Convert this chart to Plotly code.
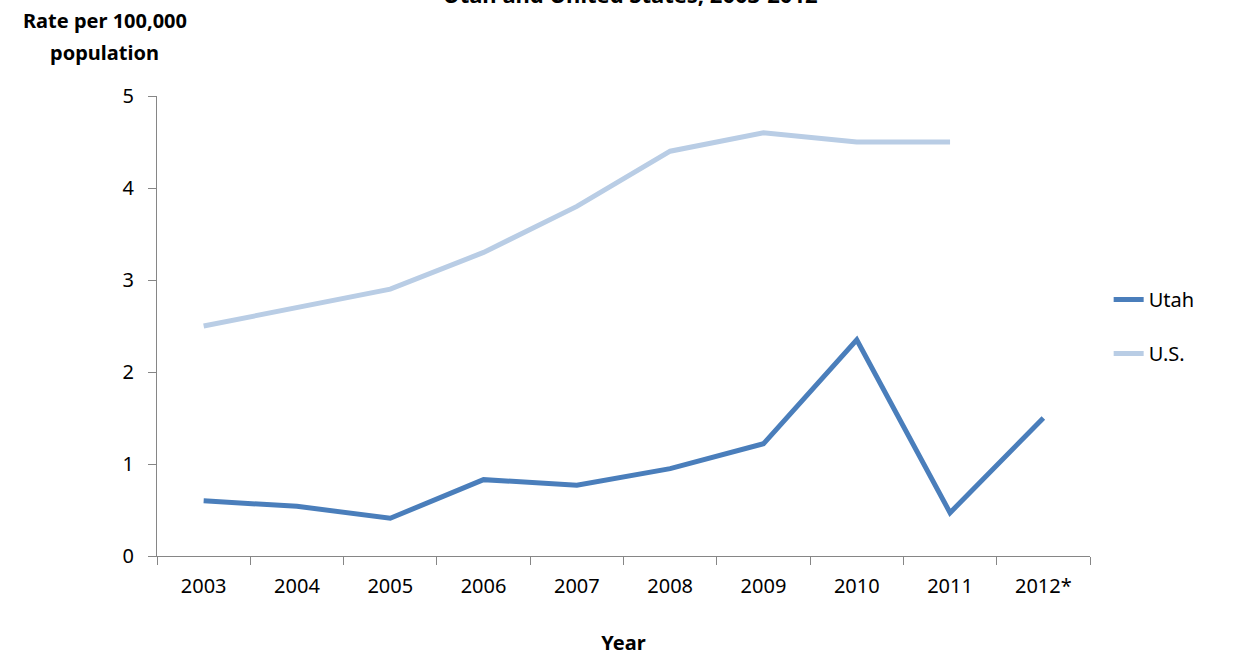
import plotly.graph_objects as go

years = ["2003", "2004", "2005", "2006", "2007", "2008", "2009", "2010", "2011", "2012*"]
utah_rate = [0.60, 0.54, 0.41, 0.83, 0.77, 0.95, 1.22, 2.35, 0.47, 1.50]
us_rate = [2.5, 2.7, 2.9, 3.3, 3.8, 4.4, 4.6, 4.5, 4.5, None]

FONT = "Noto Sans, Open Sans, Liberation Sans, sans-serif"
AXIS_GREY = "#868686"

fig = go.Figure()
fig.add_trace(go.Scatter(
    x=years, y=utah_rate, name="Utah", mode="lines",
    line=dict(color="#4A7EBB", width=5), legendgroup="a",
))
fig.add_trace(go.Scatter(
    x=years, y=us_rate, name="U.S.", mode="lines",
    line=dict(color="#B9CDE5", width=5), legendgroup="b",
))

fig.update_layout(
    width=1239, height=656,
    margin=dict(l=157, r=149, t=96, b=100),
    paper_bgcolor="white", plot_bgcolor="white",
    font=dict(family=FONT, size=20, color="black"),
    showlegend=True,
    legend=dict(
        x=1.02, y=0.6, xanchor="left", yanchor="top",
        font=dict(size=20), tracegroupgap=25,
        bgcolor="rgba(0,0,0,0)",
    ),
    xaxis=dict(
        type="category", range=[-0.5, 9.5], tickson="boundaries",
        ticks="outside", ticklen=8, tickcolor=AXIS_GREY,
        showline=True, linecolor=AXIS_GREY, linewidth=1,
        showgrid=False, zeroline=False, automargin=False,
        tickfont=dict(size=20), ticklabelstandoff=12,
        title=dict(text="<b>Year</b>", font=dict(size=20), standoff=37),
    ),
    yaxis=dict(
        range=[0, 5], dtick=1, ticks="outside", ticklen=8,
        tickcolor=AXIS_GREY, showline=True, linecolor=AXIS_GREY, linewidth=1,
        showgrid=False, zeroline=False, tickfont=dict(size=20),
        ticklabelstandoff=10, automargin=False,
    ),
    annotations=[
        dict(
            text="<b>Rate per 100,000</b>",
            xref="paper", yref="paper", x=-0.056, y=(556 - 20) / 460,
            xanchor="center", yanchor="middle", showarrow=False,
            font=dict(size=20),
        ),
        dict(
            text="<b>population</b>",
            xref="paper", yref="paper", x=-0.056, y=(556 - 52) / 460,
            xanchor="center", yanchor="middle", showarrow=False,
            font=dict(size=20),
        ),
        dict(
            text="<b>Utah and United States, 2003-2012</b>",
            xref="paper", yref="paper", x=0.508, y=1.222,
            xanchor="center", yanchor="middle", showarrow=False,
            font=dict(size=22),
        ),
    ],
)

fig.write_html("out.html")
